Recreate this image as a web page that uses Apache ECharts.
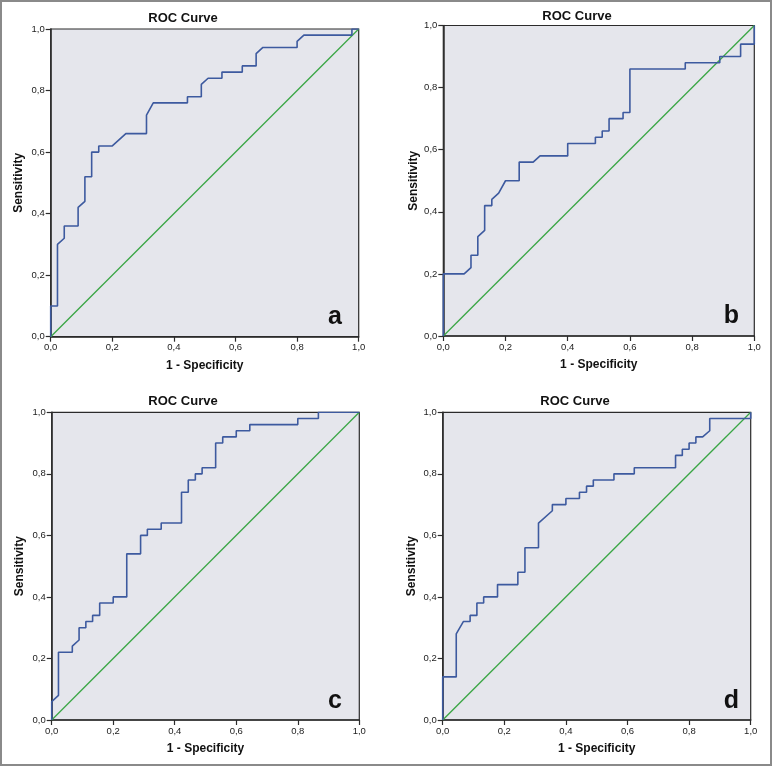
<!DOCTYPE html>
<html>
<head>
<meta charset="utf-8">
<script src="https://cdn.jsdelivr.net/npm/echarts@6/dist/echarts.min.js"></script>
<style>
  html, body { margin: 0; padding: 0; background: #ffffff; }
  #chart { width: 774px; height: 767px; }
</style>
</head>
<body>
<div id="chart"></div>
<script>
// ---- data (x = 1 - Specificity, y = Sensitivity) ----
const rocA = [[0,0],[0,0.10],[0.022,0.10],[0.022,0.30],[0.044,0.32],[0.044,0.36],[0.089,0.36],[0.089,0.42],[0.111,0.44],[0.111,0.52],[0.133,0.52],[0.133,0.60],[0.156,0.60],[0.156,0.62],[0.2,0.62],[0.244,0.66],[0.311,0.66],[0.311,0.72],[0.333,0.76],[0.444,0.76],[0.444,0.78],[0.489,0.78],[0.489,0.82],[0.511,0.84],[0.556,0.84],[0.556,0.86],[0.622,0.86],[0.622,0.88],[0.667,0.88],[0.667,0.92],[0.689,0.94],[0.8,0.94],[0.8,0.96],[0.822,0.98],[0.978,0.98],[0.978,1.0],[1,1]];
const rocB = [[0,0],[0,0.20],[0.067,0.20],[0.089,0.22],[0.089,0.26],[0.111,0.26],[0.111,0.32],[0.133,0.34],[0.133,0.42],[0.156,0.42],[0.156,0.44],[0.178,0.46],[0.2,0.50],[0.244,0.50],[0.244,0.56],[0.289,0.56],[0.311,0.58],[0.4,0.58],[0.4,0.62],[0.489,0.62],[0.489,0.64],[0.511,0.64],[0.511,0.66],[0.533,0.66],[0.533,0.70],[0.578,0.70],[0.578,0.72],[0.6,0.72],[0.6,0.86],[0.778,0.86],[0.778,0.88],[0.889,0.88],[0.889,0.90],[0.956,0.90],[0.956,0.94],[1,0.94],[1,1]];
const rocC = [[0,0],[0,0.06],[0.022,0.08],[0.022,0.22],[0.067,0.22],[0.067,0.24],[0.089,0.26],[0.089,0.30],[0.111,0.30],[0.111,0.32],[0.133,0.32],[0.133,0.34],[0.156,0.34],[0.156,0.38],[0.2,0.38],[0.2,0.40],[0.244,0.40],[0.244,0.54],[0.289,0.54],[0.289,0.60],[0.311,0.60],[0.311,0.62],[0.356,0.62],[0.356,0.64],[0.422,0.64],[0.422,0.74],[0.444,0.74],[0.444,0.78],[0.467,0.78],[0.467,0.80],[0.489,0.80],[0.489,0.82],[0.533,0.82],[0.533,0.90],[0.556,0.90],[0.556,0.92],[0.6,0.92],[0.6,0.94],[0.644,0.94],[0.644,0.96],[0.8,0.96],[0.8,0.98],[0.867,0.98],[0.867,1.0],[1,1]];
const rocD = [[0,0],[0,0.14],[0.044,0.14],[0.044,0.28],[0.067,0.32],[0.089,0.32],[0.089,0.34],[0.111,0.34],[0.111,0.38],[0.133,0.38],[0.133,0.40],[0.178,0.40],[0.178,0.44],[0.244,0.44],[0.244,0.48],[0.267,0.48],[0.267,0.56],[0.311,0.56],[0.311,0.64],[0.356,0.68],[0.356,0.70],[0.4,0.70],[0.4,0.72],[0.444,0.72],[0.444,0.74],[0.467,0.74],[0.467,0.76],[0.489,0.76],[0.489,0.78],[0.556,0.78],[0.556,0.80],[0.622,0.80],[0.622,0.82],[0.756,0.82],[0.756,0.86],[0.778,0.86],[0.778,0.88],[0.8,0.88],[0.8,0.90],[0.822,0.90],[0.822,0.92],[0.844,0.92],[0.867,0.94],[0.867,0.98],[1,0.98],[1,1]];
const refLine = [[0,0],[1,1]];
const curves = [rocA, rocB, rocC, rocD];
const panelLetters = ['a', 'b', 'c', 'd'];
const chartTitle = 'ROC Curve';
const xAxisName = '1 - Specificity';
const yAxisName = 'Sensitivity';

// ---- layout / style ----
const FONT = '"Liberation Sans", Arial, sans-serif';
const grids = [
  { left: 50.7, top: 29, width: 308, height: 307.7 },
  { left: 443.3, top: 25.5, width: 311, height: 310.5 },
  { left: 51.7, top: 412.3, width: 307.6, height: 307.7 },
  { left: 442.7, top: 412.3, width: 308, height: 307.7 }
];
const titlePos = [[183, 18.5], [577, 16.5], [183, 401.5], [575, 401.5]];
const letterPos = [[335, 317], [731.5, 316], [335, 701.5], [731.5, 701]];
const yNameGap = [26, 24, 26, 25];

const curveColor = '#3D5A9F';
const refColor = '#3AA645';
const axisColor = '#2b2b2b';
const fmt = v => v.toFixed(1).replace('.', ',');

const option = {
  animation: false,
  backgroundColor: '#ffffff',
  grid: grids.map(g => Object.assign({
    show: true, backgroundColor: '#E5E6EC', borderColor: axisColor, borderWidth: 1.2, containLabel: false
  }, g)),
  xAxis: grids.map((g, i) => ({
    type: 'value', gridIndex: i, min: 0, max: 1, interval: 0.2,
    name: xAxisName, nameLocation: 'middle', nameGap: 23,
    nameTextStyle: { fontFamily: FONT, fontWeight: 'bold', fontSize: 12, color: '#111' },
    axisLine: { show: true, onZero: false, lineStyle: { color: axisColor, width: 1.5 } },
    axisTick: { show: true, inside: false, length: 5, lineStyle: { color: axisColor, width: 1.2 } },
    axisLabel: { formatter: fmt, fontFamily: FONT, fontSize: 9.5, color: '#222', margin: 6 },
    splitLine: { show: false }
  })),
  yAxis: grids.map((g, i) => ({
    type: 'value', gridIndex: i, min: 0, max: 1, interval: 0.2,
    name: yAxisName, nameLocation: 'middle', nameGap: yNameGap[i],
    nameTextStyle: { fontFamily: FONT, fontWeight: 'bold', fontSize: 12, color: '#111' },
    axisLine: { show: true, onZero: false, lineStyle: { color: axisColor, width: 1.5 } },
    axisTick: { show: true, inside: false, length: 5, lineStyle: { color: axisColor, width: 1.2 } },
    axisLabel: { formatter: fmt, fontFamily: FONT, fontSize: 9.5, color: '#222', margin: 6 },
    splitLine: { show: false }
  })),
  series: [].concat(
    curves.map((d, i) => ({
      type: 'line', xAxisIndex: i, yAxisIndex: i, data: refLine,
      showSymbol: false, silent: true, z: 2,
      lineStyle: { color: refColor, width: 1.3 }
    })),
    curves.map((d, i) => ({
      type: 'line', xAxisIndex: i, yAxisIndex: i, data: d,
      showSymbol: false, silent: true, z: 3,
      lineStyle: { color: curveColor, width: 1.6 }
    }))
  ),
  graphic: [].concat(
    [{
      type: 'rect', silent: true, z: 100,
      shape: { x: 1, y: 1, width: 770, height: 764 },
      style: { fill: 'none', stroke: '#8a8a8a', lineWidth: 2 }
    }],
    titlePos.map(p => ({
      type: 'text', x: p[0], y: p[1], silent: true, z: 100,
      style: { text: chartTitle, fill: '#111', font: 'bold 13px ' + FONT, align: 'center', verticalAlign: 'middle' }
    })),
    letterPos.map((p, i) => ({
      type: 'text', x: p[0], y: p[1], silent: true, z: 100,
      style: { text: panelLetters[i], fill: '#111', font: 'bold 25px ' + FONT, align: 'center', verticalAlign: 'middle' }
    }))
  )
};

const chart = echarts.init(document.getElementById('chart'), null, { renderer: 'canvas' });
chart.setOption(option);
</script>
</body>
</html>
